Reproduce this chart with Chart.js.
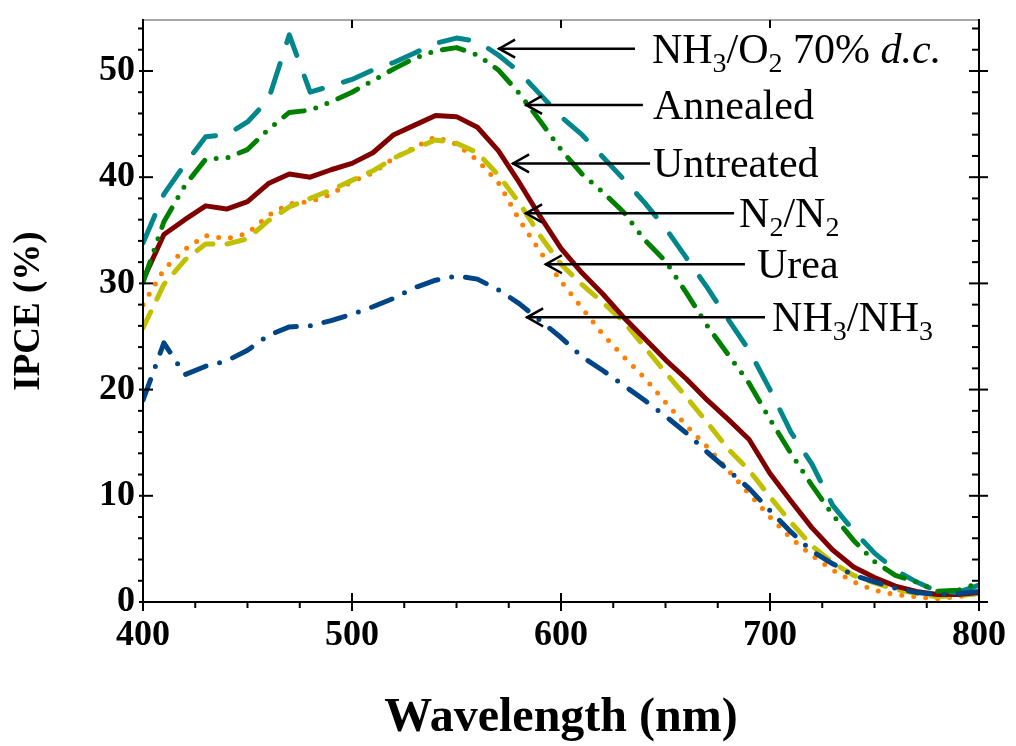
<!DOCTYPE html>
<html>
<head>
<meta charset="utf-8">
<script src="https://cdn.jsdelivr.net/npm/chart.js@4.4.1/dist/chart.umd.min.js"></script>
<style>
  html, body { margin: 0; padding: 0; background: #fff; }
  #wrap { width: 1016px; height: 746px; }
</style>
</head>
<body>
<div id="wrap"><canvas id="ipceChart" width="1016" height="746"></canvas></div>
<script>
// wavelength (nm)
const wavelength = [400, 410, 420, 430, 440, 450, 460, 470, 480, 490, 500, 510, 520, 530, 540, 550, 560, 570, 580, 590, 600,
  610, 620, 630, 640, 650, 660, 670, 680, 690, 700, 710, 720, 730, 740, 750, 760, 770, 780, 790, 800];

// IPCE (%) per treatment
const nh3o2 = [33.8, 38.4, 41.2, 43.8, 44.0, 45.2, 47.3, 53.4, 48.0, 48.6, 49.2, 50.1, 50.8, 51.7, 52.6, 53.1, 52.8, 51.5, 49.9, 47.8, 45.7,
  44.0, 41.9, 39.8, 37.6, 35.2, 32.4, 29.6, 26.6, 23.7, 20.0, 16.0, 13.0, 9.1, 6.7, 4.6, 3.0, 1.9, 1.0, 0.9, 1.6];
const annealed = [30.1, 35.8, 39.2, 41.7, 41.8, 42.6, 44.5, 46.1, 46.3, 47.1, 48.0, 49.1, 50.2, 51.2, 51.9, 52.2, 51.5, 50.1, 47.9, 45.3, 42.6,
  40.3, 38.6, 36.7, 34.1, 32.1, 29.1, 26.0, 23.3, 20.6, 17.2, 14.0, 11.0, 8.2, 5.8, 3.8, 2.5, 1.9, 1.0, 1.1, 1.8];
const untreated = [30.3, 34.6, 36.0, 37.3, 37.0, 37.7, 39.4, 40.3, 40.0, 40.7, 41.3, 42.3, 44.0, 44.9, 45.8, 45.7, 44.7, 42.5, 39.5, 36.3, 33.3,
  31.0, 29.0, 26.8, 24.8, 22.8, 21.0, 19.0, 17.2, 15.3, 12.1, 9.5, 7.0, 4.9, 3.3, 2.3, 1.5, 1.0, 0.7, 0.7, 0.9];
const n2n2 = [25.8, 29.9, 32.2, 33.7, 33.7, 34.2, 35.9, 37.2, 38.0, 38.8, 39.7, 40.6, 41.8, 42.7, 43.5, 43.2, 42.3, 40.2, 37.6, 34.5, 31.8,
  29.9, 28.2, 26.4, 24.0, 21.6, 19.3, 16.9, 14.4, 12.4, 9.9, 7.5, 5.3, 3.7, 2.5, 1.8, 1.2, 0.8, 0.5, 0.6, 0.8];
const urea = [28.0, 31.3, 33.2, 34.5, 34.2, 34.7, 36.4, 37.5, 37.7, 38.4, 39.6, 40.4, 41.8, 42.8, 43.8, 43.1, 41.6, 39.5, 36.0, 33.0, 30.2,
  27.7, 25.2, 23.1, 21.1, 18.8, 16.6, 14.6, 12.4, 10.2, 8.0, 6.0, 4.4, 3.0, 1.9, 1.1, 0.7, 0.5, 0.3, 0.5, 0.8];
const nh3nh3 = [19.0, 24.4, 21.4, 22.2, 22.7, 23.7, 25.1, 25.9, 26.0, 26.5, 27.1, 27.8, 28.6, 29.6, 30.3, 30.7, 30.4, 29.4, 28.1, 26.5, 24.9,
  23.1, 21.8, 20.4, 19.0, 17.5, 15.9, 14.1, 12.4, 10.7, 8.6, 6.6, 4.8, 3.6, 2.5, 1.9, 1.3, 0.9, 0.7, 0.8, 1.0];

const xTicks = [400, 500, 600, 700, 800];
const yTicks = [0, 10, 20, 30, 40, 50];

// arrow labels: tip, tail and text start in data units
const notes = [
  { parts: [['NH'], ['3', 'sub'], ['/O'], ['2', 'sub'], [' 70% '], ['d.c.', 'it']], tip: [569.9, 52.1], tail: 635.4, text: 643.5 },
  { parts: [['Annealed']], tip: [582.8, 46.8], tail: 639.2, text: 644.0 },
  { parts: [['Untreated']], tip: [576.6, 41.3], tail: 642.6, text: 644.0 },
  { parts: [['N'], ['2', 'sub'], ['/N'], ['2', 'sub']], tip: [582.8, 36.6], tail: 682.8, text: 685.2 },
  { parts: [['Urea']], tip: [592.3, 31.8], tail: 688.0, text: 693.8 },
  { parts: [['NH'], ['3', 'sub'], ['/NH'], ['3', 'sub']], tip: [583.3, 26.8], tail: 697.6, text: 701.0 }
];

function points(vals) {
  return wavelength.map((w, i) => ({ x: w, y: vals[i] }));
}

function series(label, vals, color, dash) {
  return {
    label: label,
    data: points(vals),
    borderColor: color,
    backgroundColor: color,
    borderWidth: 5,
    borderDash: dash,
    borderCapStyle: 'round',
    borderJoinStyle: 'round',
    pointRadius: 0,
    tension: 0,
    fill: false
  };
}

const serif = "'Liberation Serif', 'Times New Roman', serif";

const frameAndNotes = {
  id: 'frameAndNotes',
  afterDatasetsDraw(chart) {
    const { ctx, chartArea: a, scales: { x, y } } = chart;
    ctx.save();
    const seg = (x1, y1, x2, y2) => { ctx.beginPath(); ctx.moveTo(x1, y1); ctx.lineTo(x2, y2); ctx.stroke(); };

    // frame
    ctx.lineWidth = 2;
    ctx.strokeStyle = '#a6a6a6';
    seg(a.left, a.top, a.right, a.top);
    ctx.strokeStyle = '#000';
    seg(a.left, a.top - 1, a.left, a.bottom + 1);
    seg(a.right, a.top - 1, a.right, a.bottom + 1);
    seg(a.left - 1, a.bottom, a.right + 1, a.bottom);

    // tick marks
    for (let w = 400; w <= 800; w += 25) {
      const px = x.getPixelForValue(w);
      if (w % 100 === 0) {
        seg(px, a.bottom - 9, px, a.bottom + 9);
        seg(px, a.top, px, a.top + 8);
      } else {
        seg(px, a.bottom, px, a.bottom + 6);
      }
    }
    for (let v = 0; v <= 54; v += 2) {
      const py = y.getPixelForValue(v);
      if (v % 10 === 0) {
        seg(a.left - 4, py, a.left + 10, py);
        seg(a.right - 10, py, a.right + 9, py);
      } else {
        seg(a.left - 5, py, a.left, py);
        seg(a.right - 7, py, a.right, py);
      }
    }

    // arrows and labels
    ctx.lineWidth = 2.5;
    ctx.lineCap = 'butt';
    ctx.fillStyle = '#000';
    ctx.textBaseline = 'alphabetic';
    notes.forEach(n => {
      const tx = x.getPixelForValue(n.tip[0]);
      const ty = y.getPixelForValue(n.tip[1]);
      const ex = x.getPixelForValue(n.tail);
      seg(tx, ty, ex, ty);
      ctx.beginPath();
      ctx.moveTo(tx + 17, ty - 9);
      ctx.lineTo(tx + 1, ty);
      ctx.lineTo(tx + 17, ty + 9);
      ctx.stroke();
      let cx = x.getPixelForValue(n.text);
      const base = ty + 14;
      n.parts.forEach(p => {
        const kind = p[1];
        if (kind === 'sub') {
          ctx.font = '28px ' + serif;
          ctx.fillText(p[0], cx, base + 9);
        } else if (kind === 'it') {
          ctx.font = 'italic 42px ' + serif;
          ctx.fillText(p[0], cx, base);
        } else {
          ctx.font = '42px ' + serif;
          ctx.fillText(p[0], cx, base);
        }
        cx += ctx.measureText(p[0]).width;
      });
    });
    ctx.restore();
  }
};

new Chart(document.getElementById('ipceChart').getContext('2d'), {
  type: 'line',
  data: {
    datasets: [
      series('NH3/NH3', nh3nh3, '#004586', [22, 14, 0, 14]),
      series('Annealed', annealed, '#008000', [22, 12, 0, 12, 0, 12]),
      series('NH3/O2 70% d.c.', nh3o2, '#00868b', [30, 22]),
      series('Untreated', untreated, '#800000', []),
      series('N2/N2', n2n2, '#c0c000', [18, 14]),
      series('Urea', urea, '#ff8000', [0, 12])
    ]
  },
  options: {
    responsive: false,
    animation: false,
    layout: { padding: { top: 20, right: 37, left: 0, bottom: 0 } },
    plugins: { legend: { display: false }, tooltip: { enabled: false } },
    scales: {
      x: {
        type: 'linear',
        min: 400,
        max: 800,
        afterBuildTicks: s => { s.ticks = xTicks.map(v => ({ value: v })); },
        afterFit: s => { s.height = 144; s.paddingLeft = 0; s.paddingRight = 0; },
        grid: { display: false, drawTicks: false },
        border: { display: false },
        ticks: { color: '#000', padding: 12, font: { family: serif, size: 36, weight: 'bold' } },
        title: { display: true, text: 'Wavelength (nm)', color: '#000', padding: { top: 0, bottom: 0 },
          font: { family: serif, size: 48, weight: 'bold', lineHeight: 1.15 } }
      },
      y: {
        type: 'linear',
        min: 0,
        max: 54.8,
        afterBuildTicks: s => { s.ticks = yTicks.map(v => ({ value: v })); },
        afterFit: s => { s.width = 143; s.paddingTop = 0; s.paddingBottom = 0; },
        grid: { display: false, drawTicks: false },
        border: { display: false },
        ticks: { color: '#000', padding: 8, font: { family: serif, size: 36, weight: 'bold' } },
        title: { display: true, text: 'IPCE (%)', color: '#000', padding: { top: 7, bottom: 0 },
          font: { family: serif, size: 37, weight: 'bold' } }
      }
    }
  },
  plugins: [frameAndNotes]
});
</script>
</body>
</html>
